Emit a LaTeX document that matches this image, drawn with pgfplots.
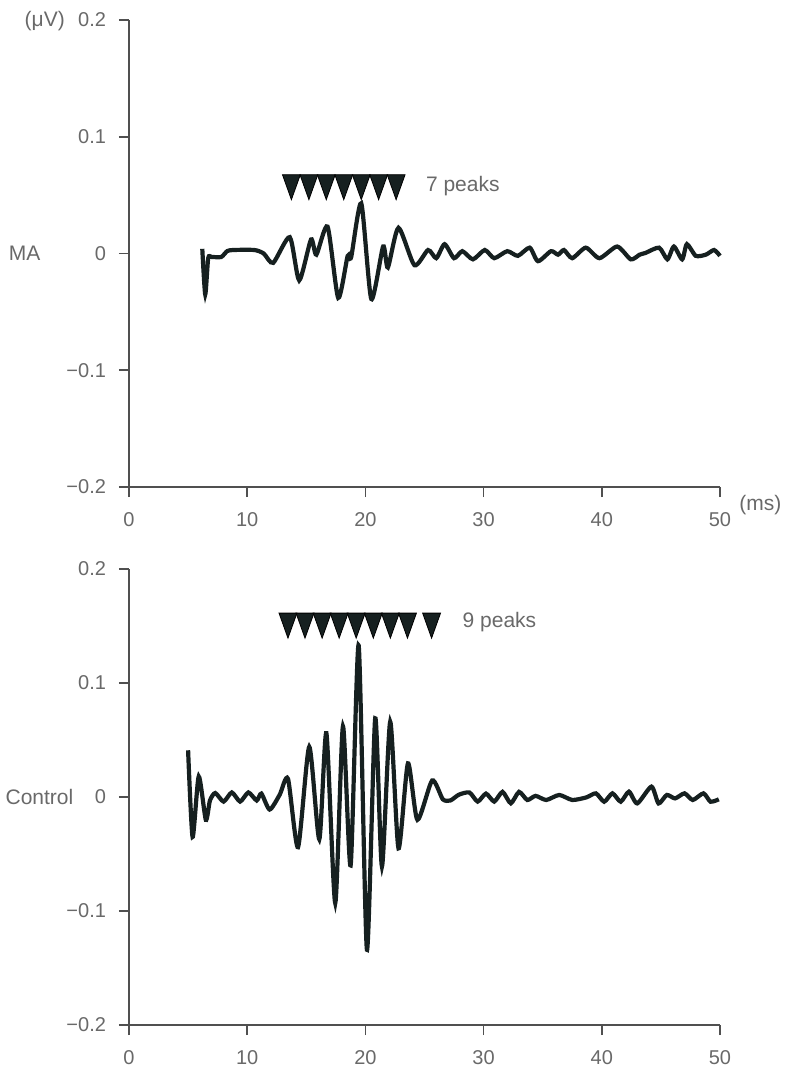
\documentclass[border=0pt]{standalone}
\usepackage{fontspec}
\setmainfont{Liberation Sans}
\usepackage{pgfplots}
\pgfplotsset{compat=1.18}
\definecolor{trace}{RGB}{22,32,32}
\definecolor{lab}{RGB}{105,105,105}
\definecolor{axc}{RGB}{80,80,80}

\pgfplotstableread{
x y
6.2 0.004
6.45 -0.035
6.7 -0.004
7.0 -0.003
7.8 -0.003
8.3 0.002
8.8 0.003
10.6 0.003
11.4 0.000
12.2 -0.008
13.6 0.014
14.4 -0.023
15.4 0.012
15.85 -0.001
16.8 0.023
17.7 -0.038
18.5 -0.002
18.8 -0.003
19.65 0.043
20.5 -0.039
21.5 0.006
21.9 -0.012
22.8 0.022
24.15 -0.010
25.3 0.003
26.0 -0.004
26.7 0.008
27.5 -0.004
28.2 0.002
29.1 -0.005
30.1 0.003
30.9 -0.004
32.0 0.002
32.9 -0.002
33.9 0.005
34.6 -0.0066
35.7 0.002
36.3 -0.001
36.8 0.003
37.5 -0.004
38.65 0.005
39.8 -0.004
41.3 0.006
42.45 -0.005
43.2 -0.001
43.7 0.0005
44.85 0.005
45.55 -0.005
46.1 0.006
46.8 -0.005
47.2 0.008
47.95 -0.002
48.8 -0.001
49.5 0.003
50.0 -0.002
}\datama

\pgfplotstableread{
x y
5.0 0.041
5.38 -0.035
5.9 0.018
6.5 -0.020
6.85 -0.003
7.3 0.0035
8.0 -0.004
8.7 0.004
9.4 -0.004
10.1 0.004
10.8 -0.003
11.2 0.003
11.9 -0.011
12.75 0.002
13.45 0.016
14.3 -0.044
15.25 0.044
16.1 -0.037
16.7 0.056
17.45 -0.093
18.1 0.062
18.75 -0.060
19.43 0.133
20.13 -0.134
20.83 0.069
21.4 -0.061
22.1 0.066
22.8 -0.045
23.6 0.0295
24.4 -0.020
25.65 0.0145
26.55 -0.002
27.2 -0.003
27.9 0.002
28.8 0.004
29.5 -0.004
30.2 0.003
30.9 -0.004
31.6 0.0045
32.3 -0.0055
33.0 0.0045
33.7 -0.0026
34.4 0.001
35.3 -0.0026
36.4 0.0018
37.5 -0.0026
38.7 -0.0003
39.5 0.0032
40.2 -0.0041
40.9 0.0032
41.6 -0.0041
42.3 0.0047
43.0 -0.0056
44.2 0.0091
44.8 -0.0056
45.5 0.0018
46.2 -0.0012
47.0 0.0032
47.7 -0.0026
48.6 0.0032
49.2 -0.0041
49.9 -0.002
}\datactl

\pgfplotsset{
 myax/.style={
  scale only axis, width=295.5pt, clip=false,
  xmin=0,xmax=50,ymin=-0.2,ymax=0.2,
  axis x line*=bottom, axis y line*=left,
  axis line style={axc, line width=0.8pt},
  xtick={0,10,20,30,40,50}, xticklabels={0,10,20,30,40,50},
  ytick={-0.2,-0.1,0,0.1,0.2}, yticklabels={−0.2,−0.1,0,0.1,0.2},
  tick align=outside, major tick length=5pt,
  tick style={axc, line width=0.8pt},
  ticklabel style={font=\fontsize{10}{12}\selectfont, text=lab},
  yticklabel style={xshift=-3pt},
  xticklabel style={yshift=-4pt},
 },
 tri/.style={only marks, mark=triangle*, mark size=8.33pt,
   mark options={rotate=180, xscale=0.62, fill=trace, draw=none}},
}
\tikzset{
 lbl/.style={text=lab, inner sep=0pt, font=\fontsize{10.5}{12}\selectfont},
 pk/.style={text=lab, inner sep=0pt, font=\fontsize{10.5}{12}\selectfont},
}

\begin{document}
\begin{tikzpicture}
\path[use as bounding box] (0,0) rectangle (398pt,-535pt);
\begin{axis}[myax, height=233.5pt, at={(64.5pt,-243.5pt)}, anchor=south west]
\addplot[trace, line width=2.1pt, smooth, tension=0.4] table {\datama};
\addplot[tri] coordinates {(13.74,0.0604) (15.22,0.0604) (16.69,0.0604) (18.17,0.0604) (19.65,0.0604) (21.12,0.0604) (22.6,0.0604)};
\node[pk, anchor=west] at (axis cs:25.1,0.058) {7 peaks};
\node[lbl, anchor=east] at (axis cs:-5.4,0.199) {(μV)};
\node[lbl, anchor=west] at (axis cs:-10.2,0) {MA};
\node[lbl, anchor=west] at (axis cs:51.6,-0.2154) {(ms)};
\end{axis}
\begin{axis}[myax, height=228pt, at={(64.5pt,-512.5pt)}, anchor=south west]
\addplot[trace, line width=2.1pt, smooth, tension=0.4] table {\datactl};
\addplot[tri] coordinates {(13.45,0.154) (14.89,0.154) (16.34,0.154) (17.78,0.154) (19.22,0.154) (20.67,0.154) (22.11,0.154) (23.56,0.154) (25.6,0.154)};
\node[pk, anchor=west] at (axis cs:28.2,0.1535) {9 peaks};
\node[lbl, anchor=west] at (axis cs:-10.47,0) {Control};
\end{axis}
\end{tikzpicture}
\end{document}
